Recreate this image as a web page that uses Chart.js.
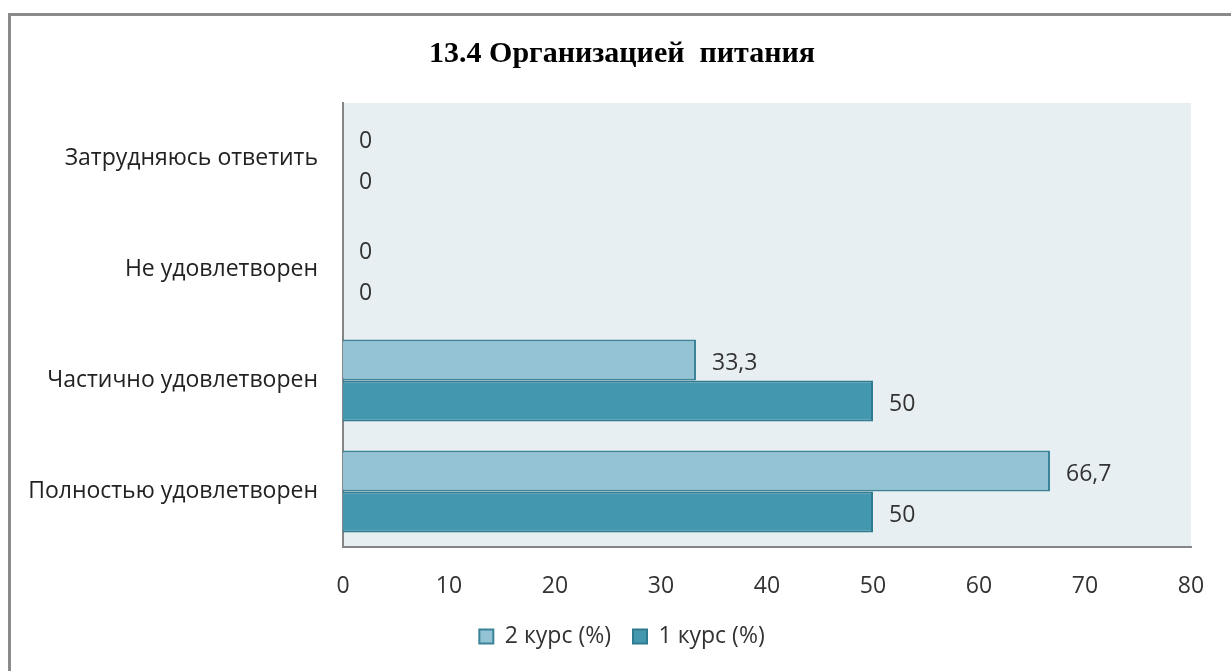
<!DOCTYPE html>
<html>
<head>
<meta charset="utf-8">
<script src="https://cdn.jsdelivr.net/npm/chart.js@4"></script>
<style>
    html, body { margin: 0; padding: 0; background: #fff; }
    #wrap { position: relative; width: 1231px; height: 671px; overflow: hidden; }
    #frame { position: absolute; left: 8px; top: 13px; width: 1300px; height: 700px;
             border-left: 3px solid #8a8a8a; border-top: 3px solid #8a8a8a; box-sizing: border-box; }
    canvas { position: absolute; left: 0; top: 0; }
</style>
</head>
<body>
<div id="wrap">
    <div id="frame"></div>
    <canvas id="chartCanvas" width="1231" height="671"></canvas>
</div>
<script>
const categories = ['Затрудняюсь ответить', 'Не удовлетворен', 'Частично удовлетворен', 'Полностью удовлетворен'];
const course2 = [0, 0, 33.3, 66.7];
const course1 = [0, 0, 50, 50];
const seriesNames = ['2 курс (%)', '1 курс (%)'];
const xTicks = [0, 10, 20, 30, 40, 50, 60, 70, 80];

const labelFont = "'Open Sans', Lato, sans-serif";

// plot area background
const plotBackground = {
    id: 'plotBackground',
    beforeDraw(chart) {
        const { ctx, chartArea } = chart;
        ctx.save();
        ctx.fillStyle = '#e8eff3';
        ctx.fillRect(chartArea.left, chartArea.top, chartArea.right - chartArea.left, chartArea.bottom - chartArea.top);
        ctx.restore();
    }
};

// value labels to the right of each bar
const valueLabels = {
    id: 'valueLabels',
    afterDatasetsDraw(chart) {
        const ctx = chart.ctx;
        ctx.save();
        ctx.font = '23px ' + labelFont;
        ctx.fillStyle = '#333';
        ctx.textAlign = 'left';
        ctx.textBaseline = 'middle';
        chart.data.datasets.forEach((dataset, i) => {
            const meta = chart.getDatasetMeta(i);
            meta.data.forEach((bar, j) => {
                const text = String(dataset.data[j]).replace('.', ',');
                ctx.fillText(text, bar.x + 16, bar.y + 3);
            });
        });
        ctx.restore();
    }
};

const context = document.getElementById('chartCanvas').getContext('2d');
new Chart(context, {
    type: 'bar',
    data: {
        labels: categories,
        datasets: [
            {
                label: seriesNames[0],
                data: course2,
                backgroundColor: '#93c3d4',
                borderColor: '#3b8398',
                borderWidth: 2,
                borderSkipped: 'start',
                barPercentage: 1,
                categoryPercentage: 0.74
            },
            {
                label: seriesNames[1],
                data: course1,
                backgroundColor: '#4397ae',
                borderColor: '#2f7a8e',
                borderWidth: 2,
                borderSkipped: 'start',
                barPercentage: 1,
                categoryPercentage: 0.74
            }
        ]
    },
    options: {
        indexAxis: 'y',
        responsive: false,
        animation: false,
        layout: {
            // negative right padding + empty right axis: keeps plot right edge at 1191
            // while centring title and legend a bit right of the canvas middle
            padding: { left: 0, right: -13, top: 20, bottom: 13 }
        },
        scales: {
            x: {
                min: 0,
                max: 80,
                afterBuildTicks: (scale) => { scale.ticks = xTicks.map(v => ({ value: v })); },
                grid: { display: false, drawTicks: false },
                border: { display: true, color: '#868686', width: 2 },
                ticks: {
                    padding: 26,
                    color: '#333',
                    font: { family: labelFont, size: 23 }
                },
                afterFit: (scale) => { scale.height = 56; }
            },
            y: {
                grid: { display: false, drawTicks: false },
                border: { display: true, color: '#868686', width: 2 },
                ticks: {
                    padding: 25,
                    color: '#222',
                    font: { family: labelFont, size: 23 }
                },
                afterFit: (scale) => { scale.width = 343; }
            },
            yRight: {
                type: 'category',
                position: 'right',
                labels: categories,
                grid: { display: false, drawTicks: false },
                border: { display: false },
                ticks: { display: false },
                afterFit: (scale) => { scale.width = 53; }
            }
        },
        plugins: {
            title: {
                display: true,
                text: '13.4 Организацией  питания',
                color: '#000',
                font: { family: "'Liberation Serif', 'Times New Roman', serif", size: 30, weight: 'bold' },
                padding: { top: 16, bottom: 31 }
            },
            legend: {
                position: 'bottom',
                labels: {
                    boxWidth: 14,
                    boxHeight: 14,
                    padding: 22,
                    color: '#333',
                    font: { family: labelFont, size: 23 }
                }
            },
            tooltip: { enabled: false }
        }
    },
    plugins: [plotBackground, valueLabels]
});
</script>
</body>
</html>
